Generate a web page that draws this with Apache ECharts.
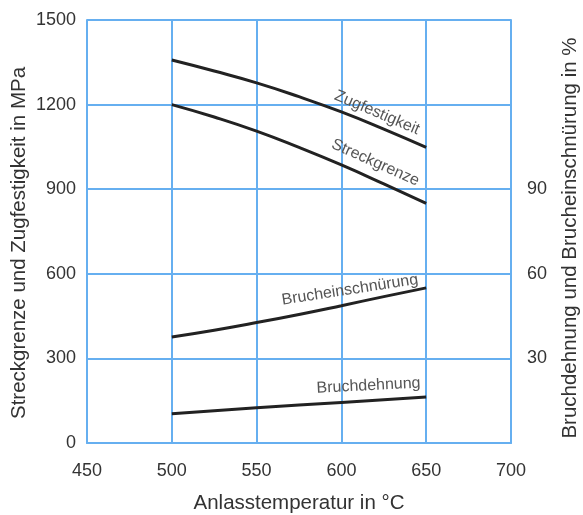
<!DOCTYPE html>
<html>
<head>
    <meta charset="utf-8">
    <title>Anlassschaubild</title>
    <script src="https://cdn.jsdelivr.net/npm/echarts@6/dist/echarts.min.js"></script>
    <style type="text/css">
        * { margin: 0; padding: 0; }
        body { background: #fff; }
        #main { width: 583px; height: 515px; }
    </style>
</head>
<body>
<div id="main"></div>
<script type="text/javascript">
    // Anlasstemperatur in °C
    var temp = [500, 525, 550, 575, 600, 625, 650];
    var tempDehnung = [500, 550, 600, 650];
    // MPa
    var zugfestigkeit = [1358, 1319, 1277, 1228, 1174, 1113, 1048];
    var streckgrenze = [1200, 1156, 1106, 1048, 986, 919, 850];
    // %
    var brucheinschnuerung = [37.6, 40.0, 42.7, 45.6, 48.7, 51.9, 55.0];
    var bruchdehnung = [10.4, 12.5, 14.4, 16.3];
    // Beschriftung an den Kurven: [Text, Temperatur, Wert, Achse, Winkel]
    var kurvenText = [
        ['Zugfestigkeit', 621, 1171, 0, -23],
        ['Streckgrenze', 620, 994, 0, -24],
        ['Brucheinschnürung', 605, 54.3, 1, 8.7],
        ['Bruchdehnung', 616, 20.3, 1, 2.9]
    ];

    var fontFam = '"Liberation Sans", Arial, sans-serif';
    var gridBlau = '#66aff0';
    var linie = '#222222';

    function paare(xs, ys) {
        var out = [];
        for (var i = 0; i < xs.length; i++) out.push([xs[i], ys[i]]);
        return out;
    }

    var myChart = echarts.init(document.getElementById('main'));

    var option = {
        animation: false,
        textStyle: { fontFamily: fontFam },
        grid: { left: 87, right: 72, top: 20, bottom: 72, containLabel: false, outerBoundsMode: 'none' },
        xAxis: {
            type: 'value',
            min: 450, max: 700, interval: 50,
            name: 'Anlasstemperatur in °C',
            nameLocation: 'middle',
            nameGap: 50,
            nameTextStyle: { fontSize: 20.5, color: '#333', fontFamily: fontFam },
            axisLine: { show: true, lineStyle: { color: gridBlau, width: 2 } },
            axisTick: { show: false },
            axisLabel: { fontSize: 18, color: '#333', margin: 19, fontFamily: fontFam },
            splitLine: { show: true, lineStyle: { color: gridBlau, width: 2 } }
        },
        yAxis: [{
            type: 'value',
            min: 0, max: 1500, interval: 300,
            axisLine: { show: true, lineStyle: { color: gridBlau, width: 2 } },
            axisTick: { show: false },
            axisLabel: {
                fontSize: 18, color: '#333', margin: 11, fontFamily: fontFam,
                formatter: function (v) { return String(v); }
            },
            splitLine: { show: true, lineStyle: { color: gridBlau, width: 2 } }
        }, {
            type: 'value',
            min: 0, max: 150, interval: 30,
            position: 'right',
            axisLine: { show: true, lineStyle: { color: gridBlau, width: 2 } },
            axisTick: { show: false },
            axisLabel: {
                fontSize: 18, color: '#333', margin: 16, fontFamily: fontFam,
                formatter: function (v) {
                    return (v >= 30 && v <= 90) ? String(v) : '';
                }
            },
            splitLine: { show: false }
        }],
        series: [{
            name: 'Zugfestigkeit', type: 'line', smooth: true, symbol: 'none',
            yAxisIndex: 0,
            lineStyle: { color: linie, width: 3 },
            data: paare(temp, zugfestigkeit)
        }, {
            name: 'Streckgrenze', type: 'line', smooth: true, symbol: 'none',
            yAxisIndex: 0,
            lineStyle: { color: linie, width: 3 },
            data: paare(temp, streckgrenze)
        }, {
            name: 'Brucheinschnürung', type: 'line', smooth: true, symbol: 'none',
            yAxisIndex: 1,
            lineStyle: { color: linie, width: 3 },
            data: paare(temp, brucheinschnuerung)
        }, {
            name: 'Bruchdehnung', type: 'line', smooth: true, symbol: 'none',
            yAxisIndex: 1,
            lineStyle: { color: linie, width: 3 },
            data: paare(tempDehnung, bruchdehnung)
        }]
    };
    myChart.setOption(option);

    // Achsentitel links / rechts und Kurvenbeschriftung
    var grafik = [{
        type: 'text', x: 19, y: 243, rotation: Math.PI / 2,
        style: {
            text: 'Streckgrenze und Zugfestigkeit in MPa', fontSize: 20.5, fill: '#333',
            fontFamily: fontFam, align: 'center', verticalAlign: 'middle'
        }
    }, {
        type: 'text', x: 570, y: 238, rotation: Math.PI / 2,
        style: {
            text: 'Bruchdehnung und Brucheinschnürung in %', fontSize: 20.5, fill: '#333',
            fontFamily: fontFam, align: 'center', verticalAlign: 'middle'
        }
    }];
    kurvenText.forEach(function (k) {
        var p = myChart.convertToPixel({ gridIndex: 0 }, [k[1], 0]);
        var py = myChart.convertToPixel({ yAxisIndex: k[3] }, k[2]);
        grafik.push({
            type: 'text', x: p[0], y: py, rotation: k[4] * Math.PI / 180,
            style: {
                text: k[0], fontSize: 16, fill: '#555',
                fontFamily: fontFam, align: 'center', verticalAlign: 'middle'
            }
        });
    });
    myChart.setOption({ graphic: grafik });
</script>
</body>
</html>
